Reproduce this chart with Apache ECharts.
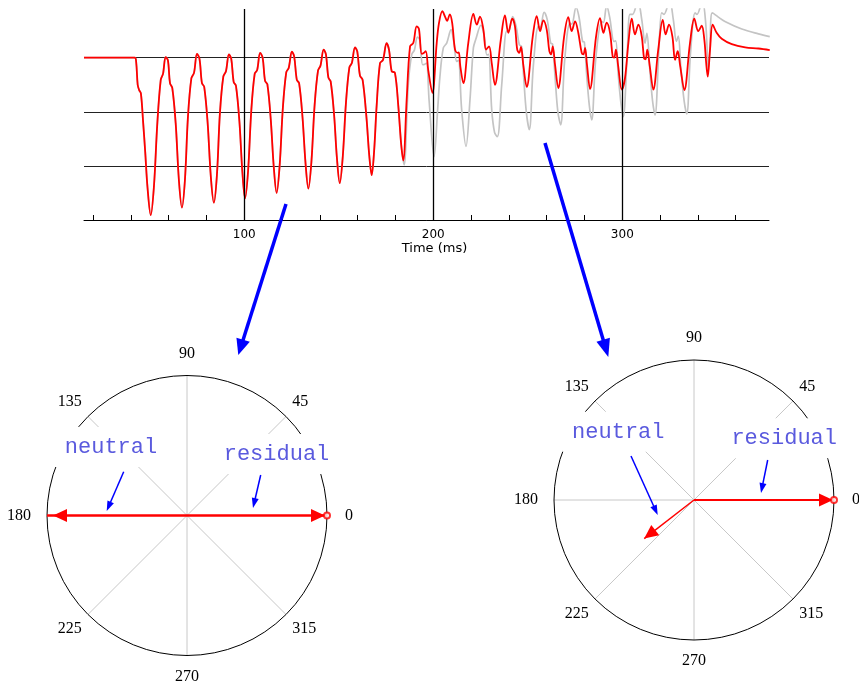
<!DOCTYPE html>
<html>
<head>
<meta charset="utf-8">
<script src="https://cdn.jsdelivr.net/npm/echarts@6.0.0/dist/echarts.min.js"></script>
<style>
html,body{margin:0;padding:0;background:#fff;}
#chart{width:859px;height:684px;}
</style>
</head>
<body>
<div id="chart"></div>
<script>
// ---- Time trace (ms, value) : shared start of both traces ----
const earlyTrace = [
 [15.2,0],[42,0],[42.8,-0.08],[43.6,-0.5],[44.4,-0.6],[45.3,-0.66],[46.5,-1.2],[47.6,-1.75],[48.8,-2.4],[50.5,-2.91],
 [52.2,-2.38],[54.0,-1.21],[55.8,-0.41],[57.0,-0.3],[58.4,0.01],[59.6,-0.05],[60.7,-0.47],[61.9,-0.56],[63.7,-1.21],[65.4,-2.26],[67.0,-2.77],
 [68.6,-2.26],[70.2,-1.09],[72.0,-0.38],[73.4,-0.28],[75.0,0.07],[76.3,-0.02],[77.6,-0.47],[78.8,-0.54],[80.6,-1.2],[82.3,-2.2],[83.9,-2.68],
 [85.5,-2.18],[87.1,-1.03],[88.9,-0.35],[90.3,-0.25],[91.9,0.06],[93.1,-0.02],[94.4,-0.45],[95.6,-0.52],[97.4,-1.17],[99.0,-2.12],[100.4,-2.6],
 [102.0,-2.1],[103.7,-0.98],[105.5,-0.3],[106.8,-0.23],[108.4,0.09],[109.7,0.0],[111.0,-0.43],[112.2,-0.49],[114.0,-1.14],[115.6,-2.02],[117.1,-2.5],
 [118.7,-2.0],[120.4,-0.93],[122.2,-0.27],[123.5,-0.19],[125.2,0.11],[126.4,0.02],[127.8,-0.41],[129.0,-0.47],[130.8,-1.1],[132.4,-1.95],[133.9,-2.42],
 [135.5,-1.93],[137.2,-0.88],[139.0,-0.24],[140.3,-0.15],[142.0,0.15],[143.2,0.06],[144.5,-0.37],[145.7,-0.44],[147.5,-1.05],[149.0,-1.85],[150.5,-2.32],
 [152.1,-1.83],[153.8,-0.83],[155.6,-0.18],[156.9,-0.1],[158.6,0.19],[159.8,0.11],[161.2,-0.33],[162.6,-0.41],[164.6,-1.09],[166.1,-1.8],[167.4,-2.17],
 [168.7,-1.72],[170.0,-0.9],[171.8,-0.1],[173.4,-0.04],[175.3,0.27],[176.6,0.14],[178.0,-0.25],[179.7,-0.28],[181.5,-0.9],[183.0,-1.6],[184.1,-1.9]
];
// red trace after it departs from grey
const redLate = [
 [185.9,-0.78],[187.7,0.21],[189.4,0.27],[191.2,0.58],[192.4,0.53],[193.9,0.07],[195.1,0.09],[196.0,0.12],[197.4,-0.25],[199.5,-0.65],
 [201.8,0.27],[203.0,0.64],[204.8,0.86],[206.2,0.76],[207.3,0.68],[208.7,0.8],[210.0,0.64],[211.5,0.15],[212.9,0.09],[213.5,0.1],[214.3,-0.16],[215.9,-0.47],
 [218.5,0.27],[221.2,0.81],[223.0,0.61],[224.7,0.76],[226.5,0.52],[227.9,0.15],[229.5,0.21],[230.9,-0.1],[232.6,-0.5],
 [235.7,0.33],[237.9,0.78],[239.7,0.46],[241.8,0.72],[243.2,0.58],[244.4,0.15],[245.5,0.09],[246.4,0.2],[247.6,-0.13],[249.4,-0.54],
 [252.6,0.39],[254.7,0.77],[256.5,0.49],[258.2,0.69],[260.0,0.52],[261.4,0.12],[262.3,0.06],[263.2,0.21],[264.4,-0.13],[266.1,-0.56],
 [269.2,0.39],[271.4,0.75],[273.2,0.49],[275.0,0.67],[276.7,0.46],[278.5,0.09],[279.4,0.06],[280.3,0.18],[281.3,-0.13],[282.9,-0.58],
 [286.1,0.39],[288.2,0.73],[290.0,0.46],[291.7,0.65],[293.5,0.46],[294.9,0.02],[295.7,0.0],[296.6,0.15],[297.8,-0.15],[299.7,-0.59],
 [301.4,-0.38],[303.2,0.27],[305.0,0.72],[306.7,0.43],[308.5,0.61],[310.3,0.39],[311.5,-0.01],[312.3,-0.03],[313.2,0.15],[314.5,-0.15],[316.4,-0.59],
 [319.0,0.15],[321.4,0.7],[322.9,0.43],[324.7,0.61],[326.5,0.39],[327.9,-0.04],[329.3,0.12],[330.6,-0.15],[332.8,-0.6],
 [335.8,0.27],[338.1,0.72],[340.2,0.49],[342.0,0.59],[343.4,0.33],[344.3,-0.07],[345.2,-0.35],[346.4,0.15],[347.8,0.61],
 [349.9,0.46],[352.6,0.35],[357.9,0.25],[365.0,0.19],[372.0,0.17],[378.0,0.14]
];
// grey trace after it departs from red
const greyLate = [
 [184.6,-1.98],[186.8,-0.47],[188.6,0.06],[190.0,0.14],[191.6,0.38],[192.8,0.33],[194.4,-0.13],[195.5,-0.12],[196.4,-0.1],[197.8,-0.8],[200.4,-1.83],
 [202.3,-0.96],[203.5,-0.35],[205.3,0.18],[207.1,0.27],[209.4,0.52],[210.8,0.3],[212.4,-0.07],[213.3,-0.05],[215.0,-0.96],[217.3,-1.64],
 [219.4,-0.78],[221.2,0.18],[222.4,0.33],[225.2,0.6],[226.8,0.42],[228.4,0.05],[229.3,0.06],[230.9,-0.96],[232.4,-1.38],[233.9,-1.46],
 [236.2,-0.5],[238.8,0.49],[239.7,0.48],[242.0,0.76],[243.8,0.58],[245.5,0.24],[246.7,0.21],[247.8,-0.35],[249.2,-1.0],[250.8,-1.33],
 [252.9,-0.16],[255.6,0.58],[256.6,0.56],[258.6,0.84],[260.3,0.7],[262.1,0.27],[263.1,0.25],[264.4,-0.35],[265.9,-1.0],[267.4,-1.24],
 [269.5,-0.05],[272.3,0.64],[273.3,0.62],[275.5,0.93],[277.1,0.75],[279.0,0.3],[279.9,0.29],[281.2,-0.35],[282.6,-0.9],[283.8,-1.15],
 [286.0,0.0],[289.1,0.67],[290.0,0.65],[291.7,0.96],[293.3,0.75],[295.6,0.3],[296.5,0.31],[297.8,-0.3],[299.3,-0.85],[300.5,-1.09],
 [302.5,0.0],[304.0,0.8],[305.4,0.8],[308.2,1.05],[310.3,0.7],[312.0,0.27],[313.0,0.45],[314.5,-0.2],[316.0,-0.8],[317.3,-1.06],
 [319.3,0.1],[320.8,0.83],[322.0,0.8],[325.0,1.05],[327.0,0.7],[328.6,0.3],[329.6,0.4],[331.0,-0.2],[332.7,-0.8],[334.1,-1.04],
 [336.1,0.1],[338.5,0.83],[339.5,0.8],[342.3,1.05],[344.2,0.6],[345.5,-0.2],[346.3,0.1],[347.6,0.83],
 [350.8,0.75],[354.3,0.67],[363.2,0.53],[372.0,0.44],[378.0,0.39]
];
const redTrace = earlyTrace.concat(redLate);
const greyTrace = earlyTrace.concat(greyLate);

// axis ticks of the time plot
const minorTicks = [20,40,60,80,100,120,140,160,180,200,220,240,260,280,300,320,340,360];
const labelTicks = [100,200,300];
const majorLines = [100,200,300];

// polar plots: [magnitude, angle in degrees]
const angleTicks = [0,45,90,135,180,225,270,315];
const leftResidual = [1, 0];
const leftNeutral  = [1, 180];
const rightResidual = [1, 0];
const rightNeutral  = [0.45, 217.8];

const RED = '#ff0000';
const chart = echarts.init(document.getElementById('chart'));

const lblFont = {fontFamily:'Liberation Serif', fontSize:16, color:'#000'};
function polarAxes(idx){
  return {
    angle: {
      polarIndex: idx, type:'value', min:0, max:360, interval:45, startAngle:0, clockwise:false,
      axisLine:{show:true, lineStyle:{color:'#000', width:1}},
      axisTick:{show:false},
      splitLine:{show:true, lineStyle:{color:'#c8c8c8', width:1}},
      axisLabel:{show:true, margin:9, ...lblFont,
        rich:{
          e:{...lblFont, padding:[0,0,0,9]},
          n:{...lblFont, padding:[0,0,5,0]},
          w:{...lblFont, padding:[0,7,0,0]},
          s:{...lblFont, padding:[4,0,0,0]},
          d:{...lblFont}
        },
        formatter: v => {
          if (angleTicks.indexOf(v) < 0) return '';
          const k = v === 0 ? 'e' : v === 90 ? 'n' : v === 180 ? 'w' : v === 270 ? 's' : 'd';
          return '{' + k + '|' + v + '}';
        }}
    },
    radius: {polarIndex: idx, type:'value', min:0, max:1, axisLine:{show:false}, axisTick:{show:false},
      axisLabel:{show:false}, splitLine:{show:false}}
  };
}
const pa0 = polarAxes(0), pa1 = polarAxes(1);

function phasorSeries(polarIndex, ph, width, offset){
  const rot = ph[1] - 90;
  return {
    type:'line', coordinateSystem:'polar', polarIndex, silent:true,
    symbol:'none', showSymbol:true, z:5,
    lineStyle:{color:RED, width},
    itemStyle:{color:RED},
    data:[
      {value:[0, ph[1]], symbol:'none'},
      {value:[ph[0], ph[1]], symbol:'triangle', symbolSize:[13,14], symbolRotate:rot, symbolOffset:offset}
    ]
  };
}
function tipMarker(polarIndex, ph){
  return {type:'scatter', coordinateSystem:'polar', polarIndex, silent:true, z:6,
    symbol:'emptyCircle', symbolSize:6, itemStyle:{color:RED, borderColor:RED, borderWidth:1.3},
    data:[[ph[0], ph[1]]]};
}

function arrow(x1,y1,x2,y2,lw,hl,hw,color){
  const dx=x2-x1, dy=y2-y1, L=Math.hypot(dx,dy), ux=dx/L, uy=dy/L;
  const bx=x2-ux*hl, by=y2-uy*hl, px=-uy, py=ux;
  return [
    {type:'line', z:110, silent:true, shape:{x1,y1,x2:bx+ux, y2:by+uy}, style:{stroke:color, lineWidth:lw}},
    {type:'polygon', z:110, silent:true, shape:{points:[[x2,y2],[bx+px*hw/2,by+py*hw/2],[bx-px*hw/2,by-py*hw/2]]}, style:{fill:color}}
  ];
}
function label(text,x,y){
  return {type:'text', z:100, silent:true, style:{text, x, y, align:'center', verticalAlign:'middle',
    font:'22px "Liberation Mono"', fill:'#5a5ade', backgroundColor:'#fff', padding:[9,10]}};
}

const graphics = [].concat(
  label('neutral',111,447), label('residual',276.5,454),
  label('neutral',618.3,431.7), label('residual',784.2,438.3),
  arrow(123.7,471.7,106.7,511,1.5,10,7,'#0000ff'),
  arrow(260.7,475,253,508,1.5,10,7,'#0000ff'),
  arrow(631,456,657.7,515,1.5,10,7,'#0000ff'),
  arrow(767.7,460,761,493,1.5,10,7,'#0000ff'),
  arrow(286,204,238.3,355,3.5,16,14,'#0000ff'),
  arrow(545,143,608.3,357,3.5,18,14,'#0000ff')
);

const option = {
  animation:false,
  backgroundColor:'#fff',
  grid:{left:84, right:90, top:9, bottom:464, containLabel:false},
  xAxis:{type:'value', min:15.2, max:377.6,
    axisLine:{show:true, onZero:false, lineStyle:{color:'#000', width:1}},
    axisTick:{show:true, inside:true, length:5, customValues:minorTicks, lineStyle:{color:'#000'}},
    axisLabel:{show:true, customValues:labelTicks, margin:9, fontFamily:'DejaVu Sans', fontSize:12, color:'#000'},
    splitLine:{show:false},
    name:'Time (ms)', nameLocation:'middle', nameGap:17,
    nameTextStyle:{fontFamily:'DejaVu Sans', fontSize:13, color:'#000', padding:[0,0,0,16]}
  },
  yAxis:{type:'value', min:-3, max:0.9, interval:1,
    axisLine:{show:false}, axisTick:{show:false}, axisLabel:{show:false},
    splitLine:{show:true, showMaxLine:false, lineStyle:{color:'#222', width:1}}
  },
  polar:[{center:[187,515.5], radius:140},{center:[694,500], radius:140}],
  angleAxis:[pa0.angle, pa1.angle],
  radiusAxis:[pa0.radius, pa1.radius],
  graphic: graphics,
  series:[
    {type:'line', name:'grey', data:greyTrace, showSymbol:false, smooth:0.35, silent:true,
     lineStyle:{color:'#c4c4c4', width:1.7}, z:2,
     markLine:{silent:true, symbol:'none', label:{show:false}, lineStyle:{color:'#000', width:1.3, type:'solid'},
       data: majorLines.map(v => ({xAxis:v}))}},
    {type:'line', name:'red', data:redTrace, showSymbol:false, smooth:0.35, silent:true,
     lineStyle:{color:RED, width:1.8}, z:3},
    phasorSeries(0, leftResidual, 2.5, [-9,0]),
    phasorSeries(0, leftNeutral, 2.5, [13,0]),
    tipMarker(0, leftResidual),
    phasorSeries(1, rightResidual, 2, [-8,0]),
    phasorSeries(1, rightNeutral, 1.5, [5.5,-4.3]),
    tipMarker(1, rightResidual)
  ]
};
chart.setOption(option);
</script>
</body>
</html>
